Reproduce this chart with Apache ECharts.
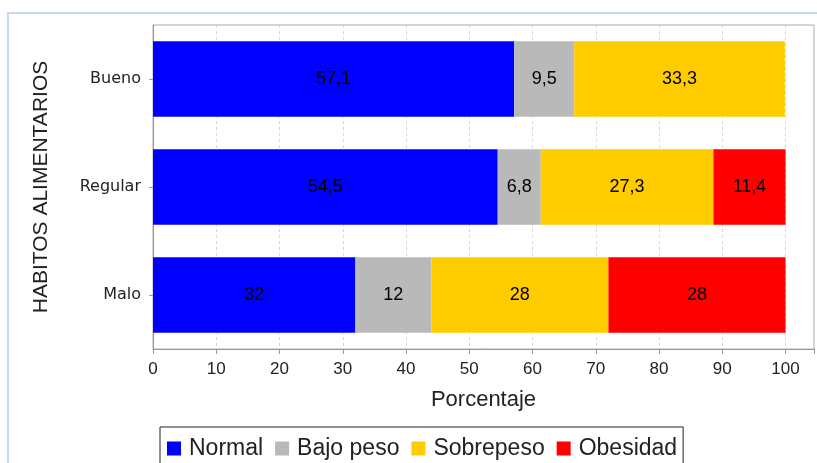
<!DOCTYPE html>
<html><head><meta charset="utf-8">
<script src="https://cdn.jsdelivr.net/npm/echarts@6/dist/echarts.min.js"></script>
<style>html,body{margin:0;padding:0;background:#fff}#c{width:817px;height:463px}</style>
</head><body><div id="c"></div>
<script>
const categories = ['Bueno', 'Regular', 'Malo'];
const normal = [57.1, 54.5, 32];
const bajoPeso = [9.5, 6.8, 12];
const sobrepeso = [33.3, 27.3, 28];
const obesidad = [null, 11.4, 28];
const seriesNames = ['Normal', 'Bajo peso', 'Sobrepeso', 'Obesidad'];
const colors = ['#0000ff', '#b9b9b9', '#ffcc00', '#ff0000'];
const xTicksMax = 100;

const font = 'Liberation Sans, Arial, sans-serif';
const chart = echarts.init(document.getElementById('c'));
const lbl = {
  show: true, position: 'inside', color: '#000', fontSize: 18, fontFamily: font,
  formatter: p => p.value == null ? '' : String(p.value).replace('.', ',')
};
const mk = (name, data, i) => ({
  name, type: 'bar', stack: 's', data, barWidth: '70%',
  itemStyle: { color: colors[i] }, label: lbl, emphasis: { disabled: true }
});
chart.setOption({
  animation: false,
  graphic: [{
    type: 'rect', shape: { x: 8, y: 13, width: 900, height: 600 },
    style: { fill: 'none', stroke: '#c6d9ee', lineWidth: 2 }, silent: true, z: -1
  }],
  grid: { left: 153, top: 25, right: 1, bottom: 114, show: true, borderColor: '#aaaaaa', borderWidth: 1 },
  legend: {
    top: 427, left: 160, data: seriesNames,
    itemWidth: 14, itemHeight: 14, itemGap: 12, icon: 'rect',
    borderColor: '#222', borderWidth: 1, padding: [10, 6, 12, 7],
    textStyle: { fontSize: 23, fontFamily: font, color: '#222', padding: [0, 0, 0, 3] }
  },
  xAxis: {
    type: 'value', min: 0, max: 104.5, interval: 10,
    name: 'Porcentaje', nameLocation: 'middle', nameGap: 40,
    nameTextStyle: { fontSize: 22, fontFamily: font, color: '#222' },
    axisLine: { show: true, lineStyle: { color: '#999' } },
    axisTick: { show: true, length: 5, lineStyle: { color: '#999' } },
    axisLabel: { fontSize: 17, fontFamily: font, color: '#222', margin: 12,
      formatter: v => v > xTicksMax ? '' : String(v) },
    splitLine: { show: true, lineStyle: { color: '#d8d8d8', type: [3, 3] } }
  },
  yAxis: {
    type: 'category', data: categories, inverse: true,
    name: 'HABITOS ALIMENTARIOS', nameLocation: 'middle', nameGap: 101, nameRotate: 90,
    nameTextStyle: { fontSize: 21, fontFamily: font, color: '#222' },
    axisLine: { show: true, lineStyle: { color: '#999' } },
    axisTick: { show: true, alignWithLabel: true, length: 4, lineStyle: { color: '#999' } },
    axisLabel: { fontSize: 16, fontFamily: 'DejaVu Sans, sans-serif', color: '#222', margin: 12 },
    splitLine: { show: false }
  },
  series: [mk(seriesNames[0], normal, 0), mk(seriesNames[1], bajoPeso, 1),
           mk(seriesNames[2], sobrepeso, 2), mk(seriesNames[3], obesidad, 3)]
});
</script></body></html>
